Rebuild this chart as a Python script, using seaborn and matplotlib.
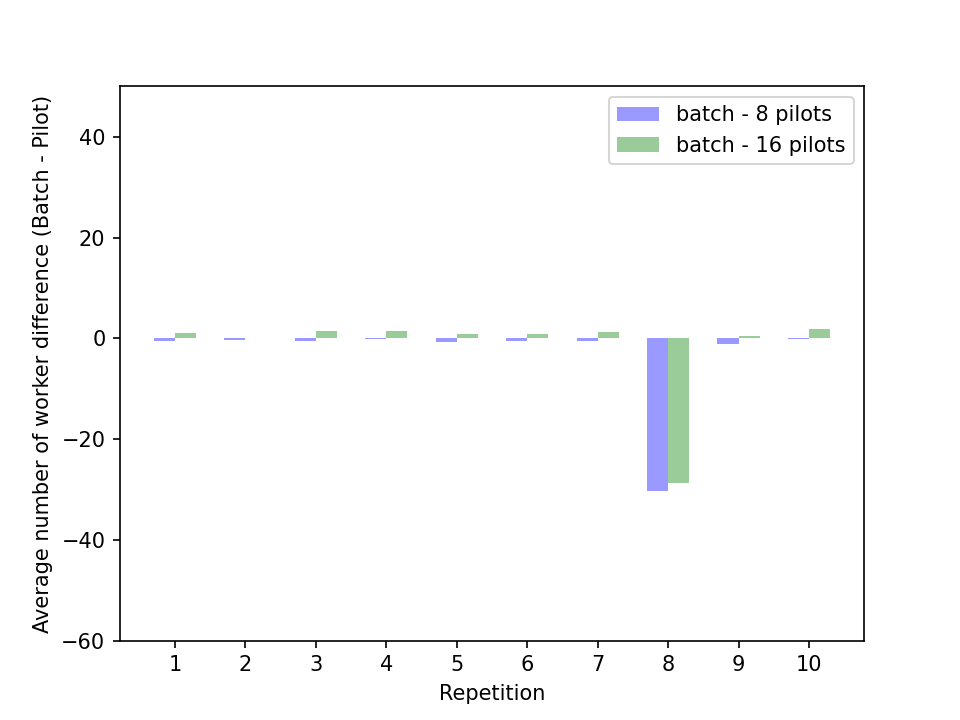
import matplotlib
matplotlib.use("Agg")
import matplotlib.pyplot as plt
import seaborn as sns
import pandas as pd

repetitions = [1, 2, 3, 4, 5, 6, 7, 8, 9, 10]
batch_8 = [-0.5, -0.3, -0.5, -0.1, -0.8, -0.5, -0.5, -30.3, -1.1, -0.1]
batch_16 = [1.0, 0.1, 1.4, 1.4, 0.9, 0.9, 1.2, -28.6, 0.5, 1.8]
labels = ["batch - 8 pilots", "batch - 16 pilots"]
colors = ["#9999ff", "#99cc99"]

df = pd.DataFrame({
    "Repetition": [str(r) for r in repetitions] * 2,
    "value": batch_8 + batch_16,
    "series": [labels[0]] * len(repetitions) + [labels[1]] * len(repetitions),
})

fig, ax = plt.subplots(figsize=(6.4, 4.8), dpi=150)
sns.barplot(data=df, x="Repetition", y="value", hue="series", palette=colors,
            saturation=1, width=0.6, errorbar=None, ax=ax, linewidth=0)

ax.set_xlim(-0.78, 9.78)
ax.set_ylim(-60, 50)
ax.set_yticks([-60, -40, -20, 0, 20, 40])
ax.set_xlabel("Repetition")
ax.set_ylabel("Average number of worker difference (Batch - Pilot)")
handles, lbls = ax.get_legend_handles_labels()
ax.legend(handles, lbls, loc="upper right", title=None)
fig.savefig("out.png", dpi=150)
